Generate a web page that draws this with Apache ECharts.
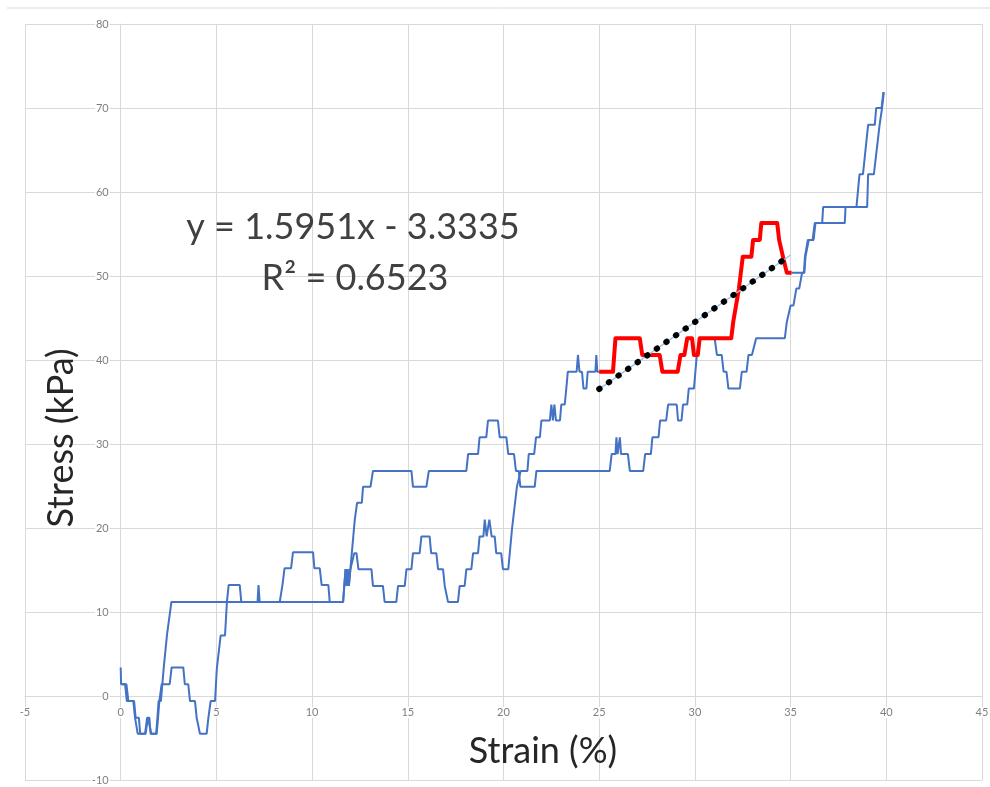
<!DOCTYPE html>
<html>
<head>
<meta charset="utf-8">
<script src="https://cdn.jsdelivr.net/npm/echarts@6/dist/echarts.min.js"></script>
<style>
html,body{margin:0;padding:0;background:#fff;}
#chart{width:990px;height:787px;}
</style>
</head>
<body>
<div id="chart"></div>
<script>
// ---- data (strain %, stress kPa) ----
const xTicks = [-5, 0, 5, 10, 15, 20, 25, 30, 35, 40, 45];
const yTicks = [-10, 0, 10, 20, 30, 40, 50, 60, 70, 80];

const branch1 = [
[0,3.4],[0.02,1.4],[0.23,1.4],[0.32,-0.6],[0.66,-0.6],[0.75,-2.6],[0.82,-2.6],[0.89,-4.5],[1.27,-4.5],[1.38,-2.6],[1.5,-2.6],[1.56,-4.5],[1.85,-4.5],[1.92,-2.6],[1.98,-0.6],[2.1,-0.6],[2.25,3.4],[2.42,7.3],[2.65,11.2],
[11.62,11.2],[11.68,13.1],[11.75,15.1],[11.8,13.1],[11.86,15.1],[11.92,13.1],[12.0,15.1],[12.05,15.1],[12.23,21.0],[12.35,23.0],[12.6,23.0],[12.66,24.9],[13.05,24.9],[13.18,26.8],[15.19,26.8],[15.27,24.9],[15.97,24.9],[16.1,26.8],[18.06,26.8],[18.15,28.8],[18.67,28.8],[18.75,30.8],[19.1,30.8],[19.19,32.8],[19.71,32.8],[19.8,30.8],[20.15,30.8],[20.25,28.8],[20.55,28.8],[20.65,26.8],[20.8,26.8],[20.88,24.9],[21.63,24.9],[21.72,26.8],
[25.55,26.8],[25.65,28.8],[25.85,28.8],[25.9,30.8],[25.96,28.8],[26.08,30.8],[26.14,28.8],[26.5,28.8],[26.6,26.8],[27.3,26.8],[27.4,28.8],[27.7,28.8],[27.78,30.8],[28.1,30.8],[28.18,32.8],[28.5,32.8],[28.6,34.7],[29.05,34.7],[29.12,32.8],[29.3,32.8],[29.38,34.7],[29.6,34.7],[29.68,36.6],[29.95,36.6],[30.1,40.6],[30.25,42.6],
[31.03,42.6],[31.15,40.6],[31.4,40.6],[31.5,38.6],[31.65,38.6],[31.75,36.6],[32.35,36.6],[32.45,38.6],[32.7,38.6],[32.8,40.6],[32.98,40.6],[33.2,42.6],[34.7,42.6],[34.8,44.5],[34.9,44.5],[35.0,46.5],[35.15,46.5],[35.3,48.5],[35.45,48.5],[35.6,50.4],[35.72,50.4],[35.78,52.3],[35.88,52.3],[35.95,54.3],[36.15,54.3],[36.26,56.3],
[37.83,56.3],[37.87,58.2],[38.44,58.2],[38.6,62.1],[38.78,62.1],[39.05,68.0],[39.4,68.0],[39.47,70.0],[39.75,70.0],[39.85,71.9]
];

const branch2Left = [
[0.05,1.4],[0.3,1.4],[0.4,-0.6],[0.7,-0.6],[0.78,-2.6],[0.95,-2.6],[1.02,-4.5],[1.3,-4.5],[1.42,-2.6],[1.52,-2.6],[1.6,-4.5],[1.88,-4.5],[1.95,-2.6],[2.02,-0.6],[2.1,-0.6],[2.14,1.4],[2.56,1.4],[2.66,3.4],[3.27,3.4],[3.35,1.4],[3.53,1.4],[3.62,-0.6],[3.88,-0.6],[3.97,-2.6],[4.05,-2.6],[4.14,-4.5],[4.49,-4.5],[4.58,-2.6],[4.7,-0.6],[4.93,-0.6],[5.02,3.2],[5.22,7.2],[5.45,7.2],[5.55,11.2],[5.64,13.2],[6.22,13.2],[6.3,11.2],[7.15,11.2],[7.2,13.2],[7.26,11.2],[8.31,11.2],[8.45,13.2],[8.56,15.2],[8.9,15.2],[9.0,17.1],[10.05,17.1],[10.12,15.2],[10.4,15.2],[10.5,13.2],[10.85,13.2],[10.92,11.2],
[11.62,11.2],[11.68,13.1],[11.75,15.1],[11.8,13.1],[11.86,15.1],[11.92,13.1],[12.0,15.1],[12.2,17.0],[12.32,17.0],[12.42,15.1],[13.1,15.1],[13.18,13.1],[13.7,13.1],[13.79,11.2],[14.4,11.2],[14.49,13.1],[14.84,13.1],[14.93,15.1],[15.19,15.1],[15.27,17.0],[15.62,17.0],[15.71,19.0],[16.14,19.0],[16.22,17.0],[16.49,17.0],[16.58,15.1],[16.84,15.1],[16.93,13.1],[17.02,13.1],[17.1,11.2],[17.62,11.2],[17.71,13.1],[17.97,13.1],[18.06,15.1],[18.32,15.1],[18.41,17.0],[18.67,17.0],[18.75,19.0],[18.95,19.0],[19.02,21.0],[19.12,19.0],[19.26,21.0],[19.38,19.0],[19.54,19.0],[19.62,17.0],[19.88,17.0],[19.97,15.1],[20.25,15.1],[20.45,20.0],[20.7,24.9],[20.9,26.8],
[21.25,26.8],[21.32,28.8],[21.6,28.8],[21.7,30.8],[21.9,30.8],[21.98,32.8],[22.42,32.8],[22.5,34.7],[22.58,32.8],[22.66,34.7],[22.74,32.8],[22.95,32.8],[23.02,34.7],[23.2,34.7],[23.28,36.6],[23.36,38.6],[23.82,38.6],[23.89,40.6],[23.97,38.6],[24.1,38.6],[24.18,36.6],[24.33,36.6],[24.4,38.6],[24.8,38.6],[24.85,40.6],[24.9,38.6],[25.0,38.6]
];

const redSegment = [
[25.0,38.6],[25.72,38.6],[25.85,42.6],[27.12,42.6],[27.25,40.6],[28.16,40.6],[28.3,38.6],[29.1,38.6],[29.25,40.6],[29.45,40.6],[29.6,42.6],[29.85,42.6],[29.95,40.6],[30.15,40.6],[30.25,42.6],[31.9,42.6],[32.0,44.5],[32.15,46.5],[32.3,48.5],[32.4,50.4],[32.5,52.3],[32.95,52.3],[33.04,54.3],[33.39,54.3],[33.47,56.3],[34.3,56.3],[34.4,54.3],[34.6,52.3],[34.8,50.4],[35.05,50.4]
];

const branch2Right = [
[35.05,50.4],[35.7,50.4],[35.75,52.3],[35.85,52.3],[35.9,54.3],[36.2,54.3],[36.3,56.3],[36.65,56.3],[36.7,58.2],[39.0,58.2],[39.05,62.1],[39.35,62.1],[39.65,68.0],[39.78,70.0],[39.87,71.9]
];

const trendLine = [[25, 36.54], [35, 52.50]];

const equationText = 'y = 1.5951x - 3.3335';
const r2Text = 'R² = 0.6523';
const xTitle = 'Strain (%)';
const yTitle = 'Stress (kPa)';

// ---- chart ----
const chart = echarts.init(document.getElementById('chart'), null, {renderer: 'canvas'});
const FONT = 'Lato, "Open Sans", sans-serif';
const gridColor = '#d9d9d9';
const blue = '#4472C4';

function blueSeries(data) {
  return {
    type: 'line', data: data, showSymbol: false, symbol: 'none',
    lineStyle: {color: blue, width: 2}, z: 2
  };
}

function axisCommon(ticks, step) {
  return {
    type: 'value', min: ticks[0], max: ticks[ticks.length - 1], interval: step,
    axisLine: {show: true, onZero: false, lineStyle: {color: gridColor, width: 1}},
    axisTick: {show: false},
    axisLabel: {
      color: '#7f7f7f', fontSize: 11, fontFamily: FONT, margin: 11,
      backgroundColor: '#fff', padding: [0, 1],
      showMinLabel: true, showMaxLabel: true
    },
    splitLine: {show: true, lineStyle: {color: gridColor, width: 1}}
  };
}

const option = {
  animation: false,
  backgroundColor: '#fff',
  grid: {left: 25, right: 8, top: 24, bottom: 7, containLabel: false, outerBoundsMode: 'none'},
  xAxis: axisCommon(xTicks, 5),
  yAxis: axisCommon(yTicks, 10),
  series: [
    blueSeries(branch1),
    blueSeries(branch2Left),
    blueSeries(branch2Right),
    {
      type: 'line', data: redSegment, showSymbol: false, symbol: 'none',
      lineStyle: {color: '#FF0000', width: 4, join: 'round'}, z: 3
    },
    {
      type: 'line', data: trendLine, showSymbol: false, symbol: 'none',
      lineStyle: {color: '#9DC3E6', width: 1.5}, z: 4
    },
    {
      type: 'line', data: trendLine, showSymbol: false, symbol: 'none',
      lineStyle: {color: '#000', width: 6, type: [0.5, 11.2], cap: 'round'}, z: 5
    }
  ],
  graphic: [
    {type: 'line', shape: {x1: 7, y1: 8, x2: 990, y2: 8}, style: {stroke: gridColor, lineWidth: 1}, silent: true},
    {type: 'text', x: 353, y: 227, style: {text: equationText, font: '36px ' + FONT, fill: '#404040', align: 'center', verticalAlign: 'middle'}, z: 10},
    {type: 'text', x: 355, y: 278, style: {text: r2Text, font: '36px ' + FONT, fill: '#404040', align: 'center', verticalAlign: 'middle'}, z: 10},
    {type: 'text', x: 543, y: 751, style: {text: xTitle, font: '36px ' + FONT, fill: '#262626', align: 'center', verticalAlign: 'middle'}, z: 10},
    {type: 'text', x: 61, y: 438, rotation: Math.PI / 2, style: {text: yTitle, font: '36px ' + FONT, fill: '#262626', align: 'center', verticalAlign: 'middle'}, z: 10}
  ]
};
chart.setOption(option);

// Place each axis on the other's zero, using the library's own scales
const rect = chart.getModel().getComponent('grid').coordinateSystem.getRect();
const xZeroPx = chart.convertToPixel({xAxisIndex: 0}, 0);
const yZeroPx = chart.convertToPixel({yAxisIndex: 0}, 0);
chart.setOption({
  xAxis: {offset: -(rect.y + rect.height - yZeroPx)},
  yAxis: {offset: -(xZeroPx - rect.x)}
});
</script>
</body>
</html>
